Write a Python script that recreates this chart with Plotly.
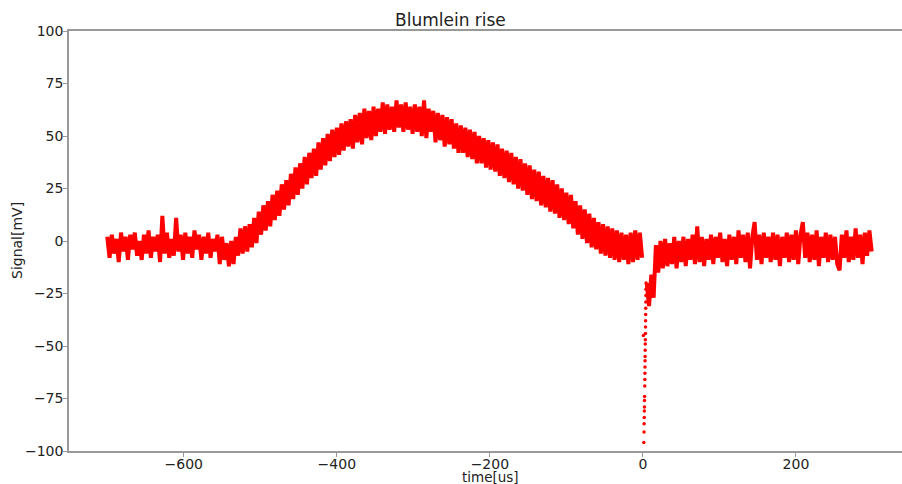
import numpy as np
import plotly.graph_objects as go

# Sampled signal before the discharge (t = -700 us, step 3 us)
pre_start, pre_step = -700, 3
pre_signal = [
    2, -8, 3, -6, 1, -10, 4, -5, 2, -9,
    3, -4, 4, -7, 0, -9, 3, -6, 5, -8,
    2, -5, 3, -10, 12, -6, 4, -8, 1, -7,
    11, -5, 3, -9, 4, -6, 2, -8, 5, -4,
    3, -9, 2, -6, 4, -8, 1, -5, 3, -11,
    2, -9, -1, -12, 0, -11, 2, -7,
    6, -6, 7, -5, 8, -3, 11, -1, 14, 3,
    17, 5, 19, 7, 22, 10, 24, 12, 27, 15,
    29, 17, 32, 20, 35, 22, 37, 25, 40, 27,
    42, 30, 44, 31, 47, 34, 49, 36, 51, 38,
    53, 40, 54, 41, 56, 43, 57, 45, 58, 44,
    60, 47, 61, 46, 63, 49, 62, 48, 64, 50,
    63, 52, 66, 51, 65, 53, 64, 52, 67, 54,
    65, 52, 66, 53, 64, 51, 65, 52, 64, 50,
    67, 49, 63, 52, 62, 47, 61, 48, 60, 45,
    59, 46, 58, 44, 56, 42, 55, 42, 54, 40,
    53, 39, 52, 37, 50, 37, 49, 35, 48, 34,
    47, 33, 46, 31, 44, 30, 43, 28, 42, 27,
    40, 25, 39, 24, 37, 22, 36, 20, 34, 19,
    33, 17, 31, 16, 30, 14, 29, 13, 27, 11,
    25, 10, 23, 8, 22, 6, 19, 3, 17, 1,
    15, -1, 13, -3, 11, -4, 9, -6, 8, -7,
    7, -8, 6, -9, 5, -10, 4, -9, 3, -11,
    4, -10, 5, -9, 4, -8,
]

# Discharge drop (individual samples)
drop_time = [0.6, 1.2, 1.5, 1.6, 1.8, 1.9, 2.0, 2.1, 2.2, 2.4, 2.5, 2.6, 2.7,
             2.8, 2.9, 3.0, 3.1, 3.2, 3.3, 3.4, 3.5, 3.6, 3.7, 3.8, 3.9, 4.0, 4.2]
drop_signal = [-45, -96, -91, -87, -84, -81, -79, -76, -74, -69, -66, -63, -60,
               -57, -55, -52, -49, -47, -44, -41, -38, -35, -32, -29, -26, -23, -20]

# Sampled signal after the discharge (t = 5 us, step 3 us)
post_start, post_step = 5, 3
post_signal = [
    -20, -31, -16, -27, -2, -15, 0, -13, 1, -12,
    -1, -11, 2, -13, 0, -10, 2, -12, 1, -9,
    3, -11, 7, -10, 2, -12, 1, -9, 3, -11,
    2, -8, 4, -10, 1, -12, 3, -9, 2, -11,
    5, -8, 3, -10, 4, -13, 2, 9, -9, 3,
    -11, 4, -8, 2, -10, 4, -9, 3, -12, 2,
    -8, 4, -10, 3, -9, 5, -11, 3, 9, -8,
    4, -10, 3, -9, 5, -12, 2, -8, 4, -10,
    3, -9, 2, -11, -14, 3, -8, 5, -10, 2,
    -9, 6, -8, 3, -11, 4, -7, 5, -5,
]

x_ticks = [-600, -400, -200, 0, 200]
y_ticks = [-100, -75, -50, -25, 0, 25, 50, 75, 100]

pre_time = pre_start + pre_step * np.arange(len(pre_signal))
post_time = post_start + post_step * np.arange(len(post_signal))

RED = "#ff0000"
FONT = "DejaVu Sans"

fig = go.Figure()
fig.add_trace(go.Scatter(x=pre_time, y=pre_signal, mode="lines",
                         line=dict(color=RED, width=4), showlegend=False))
fig.add_trace(go.Scatter(x=post_time, y=post_signal, mode="lines",
                         line=dict(color=RED, width=4), showlegend=False))
fig.add_trace(go.Scatter(x=drop_time, y=drop_signal, mode="markers",
                         marker=dict(color=RED, size=3.5), showlegend=False))

W, H = 902, 484
L, R, T, B = 69, 0, 31, 33
fig.update_layout(
    width=W, height=H,
    margin=dict(l=L, r=R, t=T, b=B),
    paper_bgcolor="white", plot_bgcolor="white",
    font=dict(family=FONT, size=14, color="#222"),
    showlegend=False,
)
axis_common = dict(showgrid=False, zeroline=False, showline=True,
                   linecolor="#999", linewidth=1.5, ticks="outside",
                   ticklen=4, tickcolor="#999", tickwidth=1,
                   tickfont=dict(family=FONT, size=14, color="#222"))
fig.update_xaxes(range=[-750, 338.6], tickvals=x_ticks, mirror=True,
                 ticklabelstandoff=-5, **axis_common)
fig.update_yaxes(range=[-100, 100], tickvals=y_ticks, mirror=False,
                 ticklabelstandoff=-3, **axis_common)

pw = W - L - R
ph = H - T - B
fig.add_annotation(text="Blumlein rise", xref="paper", yref="paper",
                   x=(450 - L) / pw, y=1 + (T - 20) / ph, showarrow=False,
                   xanchor="center", yanchor="middle",
                   font=dict(family=FONT, size=17, color="#222"))
fig.add_annotation(text="time[us]", xref="paper", yref="paper",
                   x=(490 - L) / pw, y=-(476.5 - (H - B)) / ph, showarrow=False,
                   xanchor="center", yanchor="middle",
                   font=dict(family=FONT, size=13.5, color="#222"))
fig.add_annotation(text="Signal[mV]", xref="paper", yref="paper",
                   x=(17 - L) / pw, y=0.5, showarrow=False, textangle=-90,
                   xanchor="center", yanchor="middle",
                   font=dict(family=FONT, size=14, color="#222"))

fig.write_html("out.html", config={"displayModeBar": False},
               post_script="document.body.style.margin='0';document.body.style.overflow='hidden';")
